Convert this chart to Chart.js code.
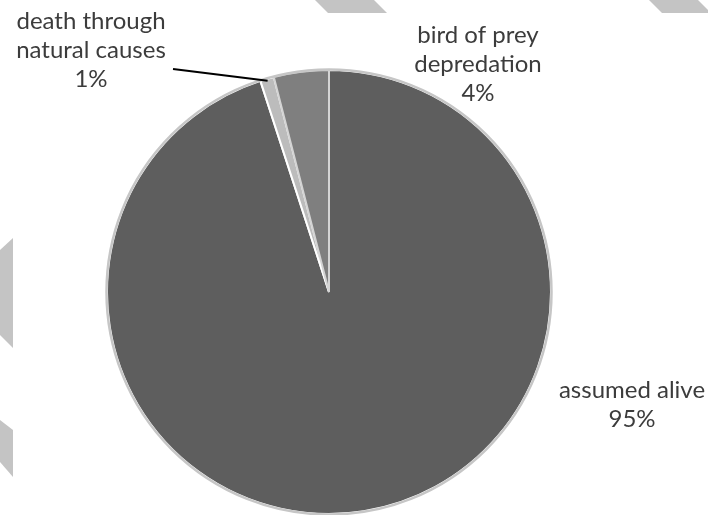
<!DOCTYPE html>
<html lang="en">
<head>
    <meta charset="UTF-8">
    <title>Fate of tagged birds</title>
    <script src="https://cdn.jsdelivr.net/npm/chart.js@4.4.0/dist/chart.umd.min.js"></script>
    <style>
        html, body { margin: 0; padding: 0; background: #ffffff; }
        #wrap { width: 708px; height: 515px; position: relative; }
    </style>
</head>
<body>
<div id="wrap">
    <canvas id="pieChart" width="708" height="515"></canvas>
</div>

<script>
    // Data
    const categories = ['assumed alive', 'death through natural causes', 'bird of prey depredation'];
    const percentages = [95, 1, 4];
    const sliceColours = ['#5e5e5e', '#bcbcbc', '#7f7f7f'];

    // Label lines per slice (drawn beside the pie)
    const labelLines = [
        ['assumed alive'],
        ['death through', 'natural causes'],
        ['bird of prey', 'depredation']
    ];
    // label anchor: centre x, y of first line
    const labelAnchors = [
        { x: 632, y: 390 },
        { x: 91, y: 21 },
        { x: 478, y: 35 }
    ];
    const lineHeight = 29;

    // light grey diagonal bands in the page background
    const bands = [
        [[315, 0], [374, 0], [387, 13], [328, 13]],
        [[649, 0], [698, 0], [711, 13], [662, 13]],
        [[0, 250], [13, 238], [13, 348], [0, 335]],
        [[0, 420], [13, 430], [13, 477], [0, 462]]
    ];

    const backgroundBands = {
        id: 'backgroundBands',
        beforeDraw(chart) {
            const ctx = chart.ctx;
            ctx.save();
            ctx.fillStyle = '#c4c4c4';
            bands.forEach(b => {
                ctx.beginPath();
                ctx.moveTo(b[0][0], b[0][1]);
                for (let i = 1; i < b.length; i++) ctx.lineTo(b[i][0], b[i][1]);
                ctx.closePath();
                ctx.fill();
            });
            ctx.restore();
        }
    };

    // grey rim round the pie, text labels and the leader line
    const sliceLabels = {
        id: 'sliceLabels',
        afterDatasetsDraw(chart) {
            const ctx = chart.ctx;
            const arcs = chart.getDatasetMeta(0).data;
            const a0 = arcs[0];

            ctx.save();
            ctx.strokeStyle = '#c6c6c6';
            ctx.lineWidth = 2.5;
            ctx.beginPath();
            ctx.arc(a0.x, a0.y, a0.outerRadius + 0.5, 0, Math.PI * 2);
            ctx.stroke();

            ctx.font = '24px Lato, "Open Sans", sans-serif';
            ctx.fillStyle = '#3c3c3c';
            ctx.textAlign = 'center';
            ctx.textBaseline = 'middle';
            arcs.forEach((arc, i) => {
                const lines = labelLines[i].concat([percentages[i] + '%']);
                const p = labelAnchors[i];
                lines.forEach((t, j) => ctx.fillText(t, p.x, p.y + j * lineHeight));
            });

            // leader line for the thin slice
            const thin = arcs[1];
            const mid = (thin.startAngle + thin.endAngle) / 2;
            const ex = thin.x + Math.cos(mid) * (thin.outerRadius - 2);
            const ey = thin.y + Math.sin(mid) * (thin.outerRadius - 2);
            ctx.strokeStyle = '#000000';
            ctx.lineWidth = 2;
            ctx.beginPath();
            ctx.moveTo(173, 69);
            ctx.lineTo(ex, ey);
            ctx.stroke();
            ctx.restore();
        }
    };

    new Chart(document.getElementById('pieChart'), {
        type: 'pie',
        data: {
            labels: categories,
            datasets: [{
                data: percentages,
                backgroundColor: sliceColours,
                borderColor: ['#ffffff', '#ffffff', '#d4d4d4'],
                borderWidth: 2
            }]
        },
        options: {
            responsive: false,
            animation: false,
            radius: 222,
            layout: { padding: { left: 107, right: 157, top: 70, bottom: 1 } },
            plugins: {
                legend: { display: false },
                tooltip: { enabled: false }
            }
        },
        plugins: [backgroundBands, sliceLabels]
    });
</script>
</body>
</html>
